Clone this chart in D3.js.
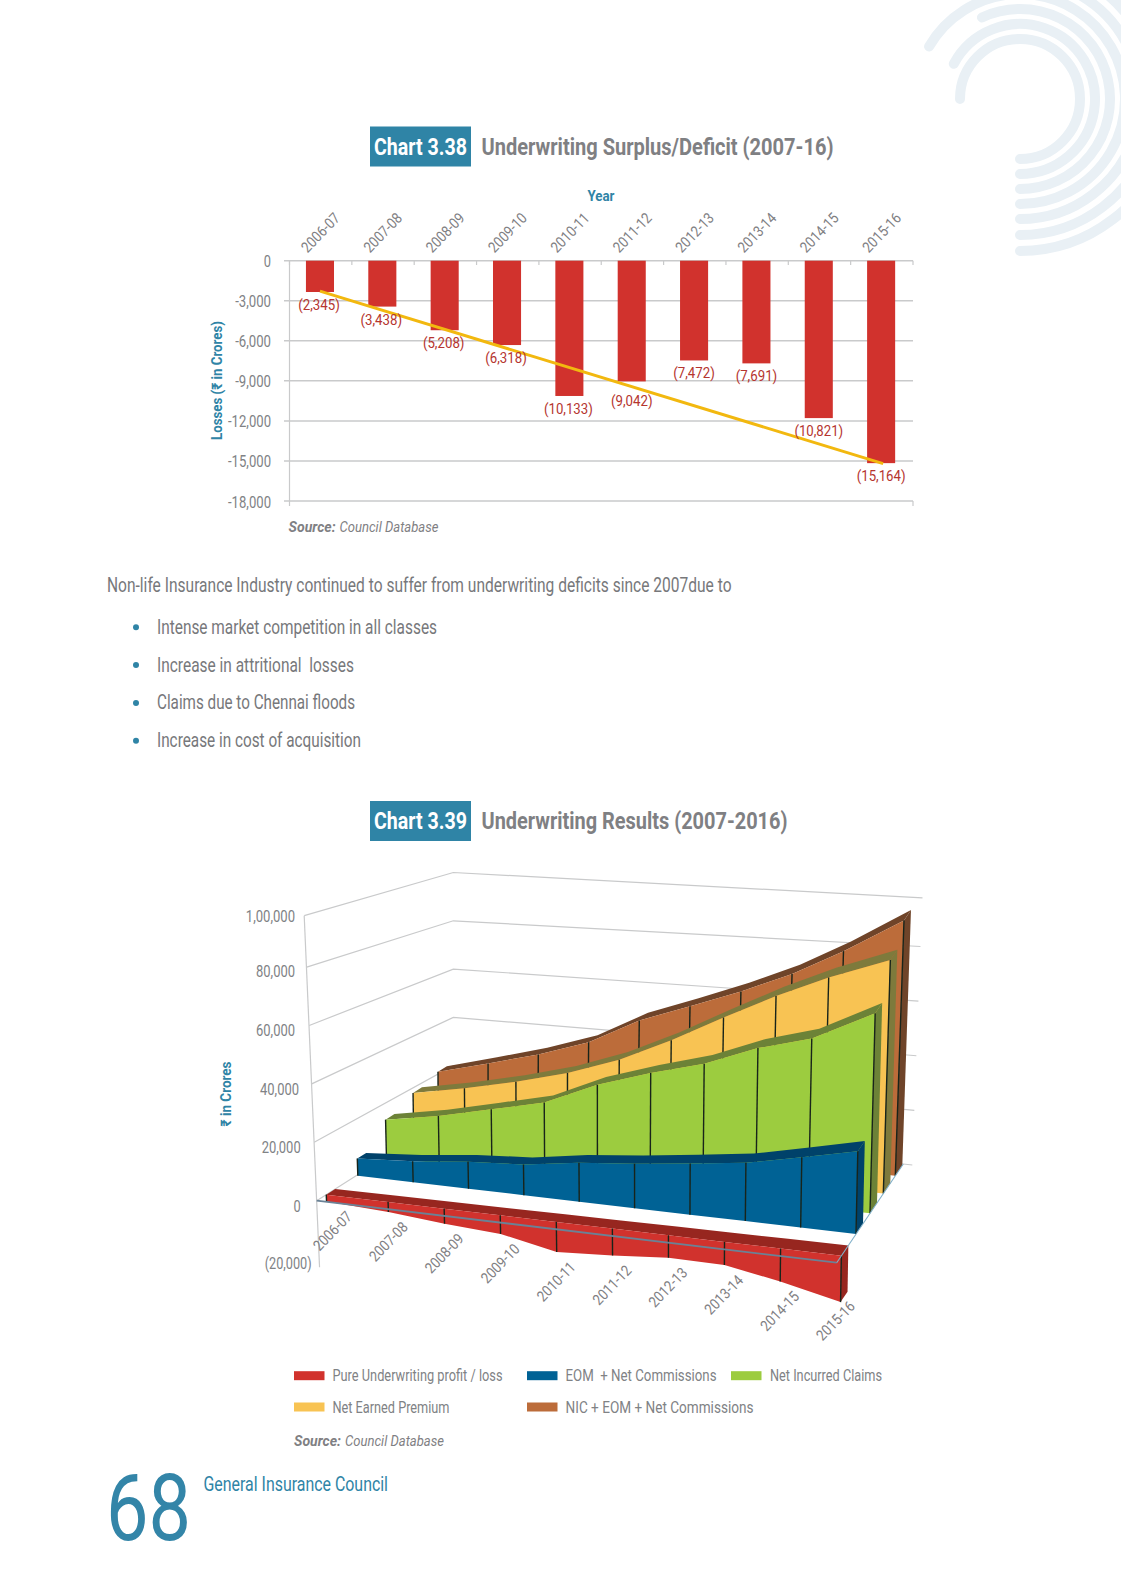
<!DOCTYPE html>
<html><head><meta charset="utf-8">
<script src="https://cdn.jsdelivr.net/npm/d3@7"></script>
<style>html,body{margin:0;padding:0;background:#fff}svg{display:block}text{white-space:pre}</style>
</head><body><div id="c"></div>
<script>
// ---------- data ----------
const categories = ["2006-07","2007-08","2008-09","2009-10","2010-11","2011-12","2012-13","2013-14","2014-15","2015-16"];
const deficitBars = [-2345,-3438,-5208,-6318,-10133,-9042,-7472,-7691,-11790,-15164];
const deficitLabels = ["(2,345)","(3,438)","(5,208)","(6,318)","(10,133)","(9,042)","(7,472)","(7,691)","(10,821)","(15,164)"];
const deficitTrendEnds = [-2280,-15200];
const deficitTicks = [0,-3000,-6000,-9000,-12000,-15000,-18000];
const deficitTickLabels = ["0","-3,000","-6,000","-9,000","-12,000","-15,000","-18,000"];

const pureProfit = [-2345,-3438,-5208,-6318,-10133,-9042,-7472,-7691,-10821,-15164];
const eomCommissions = [6200,7500,9600,10800,13600,15400,17600,19900,23800,27800];
const netIncurred = [14200,17700,22200,26700,35100,41100,46200,53400,58400,68900];
const netEarned = [18400,22200,26700,31900,38700,47600,57500,66800,74800,82500];
const nicEomCommissions = [21300,26600,32000,38500,48600,55500,62500,70300,79900,92300];
const resultTicks = [0,20000,40000,60000,80000,100000];
const resultTickLabels = ["0","20,000","40,000","60,000","80,000","1,00,000"];

const bullets = ["Intense market competition in all classes","Increase in attritional  losses","Claims due to Chennai floods","Increase in cost of acquisition"];

// ---------- helpers ----------
const W=1121,H=1578;
const FONT="Roboto,'Liberation Sans',sans-serif";
const GREY="#808285", TEAL="#2F84A6";
const svg=d3.select("#c").append("svg").attr("width",W).attr("height",H).attr("viewBox",`0 0 ${W} ${H}`)
  .style("font-family",FONT);
function txt(p,s,x,y,o={}){
  const t=p.append("text").attr("x",x).attr("y",y).attr("dominant-baseline","central")
    .attr("font-size",o.size||15).attr("fill",o.fill||GREY).attr("text-anchor",o.anchor||"start")
    .text(s);
  if(o.weight) t.attr("font-weight",o.weight);
  if(o.style) t.attr("font-style",o.style);
  if(o.w) t.attr("textLength",o.w).attr("lengthAdjust","spacingAndGlyphs");
  if(o.rot!==undefined) t.attr("transform",`rotate(${o.rot} ${x} ${y})`);
  return t;
}
// width of a condensed numeric string
const numW=s=>d3.sum(Array.from(s),c=>/\d/.test(c)?7.2:c===","?3:c==="-"?4:c==="("||c===")"?4.4:3);

// ---------- corner decoration ----------
const deco=svg.append("g").attr("fill","none").attr("stroke","#E9F0F5").attr("stroke-width",10).attr("stroke-linecap","round");
[[60,-180],[75,-152],[90,-115],[105,-150],[120,-60],[136,-60],[152,-60]].forEach(([r,endDeg])=>{
  const p=d3.path(); p.arc(1020,99,r,Math.PI/2,endDeg*Math.PI/180,true);
  deco.append("path").attr("d",p.toString());
});

// ---------- titles ----------
function title(y,num,text,tw){
  svg.append("rect").attr("x",370).attr("y",y-20).attr("width",101).attr("height",40).attr("fill","#2F84A6");
  txt(svg,num,420.5,y,{size:23.5,fill:"#fff",weight:"bold",anchor:"middle",w:93});
  txt(svg,text,481.5,y,{size:23.5,fill:"#7F8083",weight:"bold",w:tw});
}
title(146.5,"Chart 3.38","Underwriting Surplus/Deficit (2007-16)",352);
title(821,"Chart 3.39","Underwriting Results (2007-2016)",306);

// ---------- chart 3.38 ----------
const c1=svg.append("g");
const x1=d3.scaleBand().domain(categories).range([288.8,912.3]).paddingInner(0.55).paddingOuter(0.275);
const y1=d3.scaleLinear().domain([0,-18000]).range([260.7,501]);
c1.selectAll(".grid").data(deficitTicks).join("line").attr("class","grid")
  .attr("x1",284).attr("x2",913).attr("y1",d=>y1(d)).attr("y2",d=>y1(d))
  .attr("stroke","#C9CACB").attr("stroke-width",1.5);
const bandStep=x1.step();
const bounds=d3.range(categories.length+1);
c1.selectAll(".tk").data(bounds).join("line").attr("class","tk")
  .attr("x1",i=>289.5+i*bandStep).attr("x2",i=>289.5+i*bandStep).attr("y1",260.7).attr("y2",265)
  .attr("stroke","#C9CACB").attr("stroke-width",1.2);
c1.append("line").attr("x1",289.5).attr("x2",289.5).attr("y1",260.7).attr("y2",506).attr("stroke","#C9CACB").attr("stroke-width",1.2);
c1.append("line").attr("x1",913).attr("x2",913).attr("y1",501).attr("y2",506).attr("stroke","#C9CACB").attr("stroke-width",1.2);
c1.selectAll(".bar").data(categories).join("rect").attr("class","bar")
  .attr("x",d=>x1(d)).attr("width",x1.bandwidth())
  .attr("y",y1(0)).attr("height",(d,i)=>y1(deficitBars[i])-y1(0)).attr("fill","#D1322D");
const lineGen=d3.line().x(d=>d[0]).y(d=>d[1]);
c1.append("path").attr("fill","none").attr("stroke","#F2B80F").attr("stroke-width",3)
  .attr("d",lineGen([[x1(categories[0])+x1.bandwidth()/2,y1(deficitTrendEnds[0])],
                     [x1(categories[9])+x1.bandwidth()/2+2,y1(deficitTrendEnds[1])]]));
const labelDrop=(i)=>i===5?20:13;
categories.forEach((c,i)=>{
  txt(c1,deficitLabels[i],x1(c)+x1.bandwidth()/2-(i<5?1:0),y1(deficitBars[i])+labelDrop(i),{size:15.5,fill:"#B5352F",anchor:"middle",w:numW(deficitLabels[i])+1});
  txt(c1,c,x1(c)+x1.bandwidth()/2-16,250,{size:15,rot:-46,w:48,fill:"#7F8083"});
});
deficitTicks.forEach((t,i)=>txt(c1,deficitTickLabels[i],271,y1(t)+1,{size:16,anchor:"end",w:numW(deficitTickLabels[i])}));
txt(c1,"Year",601,196,{size:15,fill:TEAL,weight:"bold",anchor:"middle",w:27});
txt(c1,"Losses (\u20B9 in Crores)",217.5,380.5,{size:14.5,fill:TEAL,weight:"bold",anchor:"middle",rot:-90,w:119});
txt(c1,"Source:",288.6,526.5,{size:15.5,fill:"#7F8083",weight:"bold",style:"italic",w:47});
txt(c1,"Council Database",339.5,526.5,{size:15.5,fill:"#7F8083",style:"italic",w:99});

// ---------- body text ----------
txt(svg,"Non-life Insurance Industry continued to suffer from underwriting deficits since 2007due to",107,585,{size:19.5,fill:"#77787B",w:624.5});
const bulletY=d3.scalePoint().domain(bullets).range([627.3,740.7]);
const bulletW=[280,197,198,204];
bullets.forEach((b,i)=>{
  svg.append("circle").attr("cx",136).attr("cy",bulletY(b)).attr("r",3).attr("fill",TEAL);
  txt(svg,b,157,bulletY(b),{size:19.5,fill:"#77787B",w:bulletW[i]});
});

// ---------- chart 3.39 : projection of (category t, value, depth d) to the page ----------
const corners={FL:[316.7,1200.7],FR:[836.7,1262.7],BL:[453.3,1114],BR:[903.3,1164]};
const rise={FL:58.4,FR:61.6,BL:48.3,BR:54.5};
const lean={FL:-2.5,FR:1,BL:0,BR:2};
const idx=d3.scalePoint().domain(categories).range([0,9]);
const vScale=d3.scaleLinear().domain([0,20000]).range([0,1]);
const bil=(a,b,c,e,t,d)=>(a*(1-t)+b*t)*(1-d)+(c*(1-t)+e*t)*d;
function proj(t,v,d){
  const u=vScale(v);
  const bx=bil(corners.FL[0],corners.FR[0],corners.BL[0],corners.BR[0],t,d);
  const by=bil(corners.FL[1],corners.FR[1],corners.BL[1],corners.BR[1],t,d);
  const h=bil(rise.FL,rise.FR,rise.BL,rise.BR,t,d);
  const l=bil(lean.FL,lean.FR,lean.BL,lean.BR,t,d);
  return [bx+l*u,by-h*u];
}
const c2=svg.append("g");
// walls
const gridLine=d3.line();
resultTicks.forEach(v=>{
  const topFix=v===100000?[0,7,6]:[0,0,0];
  const a=proj(0,v,0), b=proj(0,v,1), e=proj(1.02,v,1);
  c2.append("path").attr("fill","none").attr("stroke","#C9CACB").attr("stroke-width",1.2)
    .attr("d",gridLine([[a[0],a[1]+topFix[1]],b,[e[0],e[1]+topFix[2]]]));
});
const axTop=proj(0,100000,0), axBot=proj(0,-22800,0);
c2.append("line").attr("x1",axTop[0]).attr("y1",axTop[1]+7).attr("x2",axBot[0]).attr("y2",axBot[1]).attr("stroke","#C9CACB").attr("stroke-width",1.2);

// category spacing along each ribbon: the outer steps of some ribbons are a little longer
const stepsEnd=d3.scaleLinear().domain([0,8,9]).range([0.003,0.873,1]);
const stepsEven=d3.scaleLinear().domain([0,9]).range([0.003,1]);
const stepsBoth=d3.scaleLinear().domain([0,1,8,9]).range([0,0.12,0.882,1]);
const seriesList=[
 {values:nicEomCommissions,d:0.88,front:"#BC6C3A",top:"#6F4429",steps:stepsEnd},
 {values:netEarned,d:0.70,front:"#F8C353",top:"#7E7A3C",steps:stepsEnd},
 {values:netIncurred,d:0.50,front:"#9CCC3F",top:"#6C8237",steps:stepsEnd},
 {values:eomCommissions,d:0.29,front:"#006295",top:"#00426A",steps:stepsEven},
 {values:pureProfit,d:0.07,front:"#D1322D",top:"#97261F",steps:stepsBoth}
];
const stripDepth=t=>0.065+0.04*t;
const poly=d3.line();
seriesList.forEach(s=>{
  const g=c2.append("g");
  const pts=categories.map((c,i)=>({t:s.steps(idx(c)),v:s.values[i]}));
  const last=pts[pts.length-1];
  const neg=last.v<0;
  const topVal=p=>neg?0:p.v;
  // depth offset of the ribbon measured on the floor and carried up unchanged
  const back=(t,v)=>{
    const a=proj(t,v,s.d), f0=proj(t,0,s.d), f1=proj(t,0,s.d+stripDepth(t));
    return [a[0]+f1[0]-f0[0],a[1]+f1[1]-f0[1]];
  };
  const strip=pts.map(p=>proj(p.t,topVal(p),s.d)).concat(pts.slice().reverse().map(p=>back(p.t,topVal(p))));
  g.append("path").attr("d",poly(strip)+"Z").attr("fill",s.top);
  const lowEnd=neg?last.v:0;
  const side=[proj(1,topVal(last),s.d),back(1,topVal(last)),back(1,lowEnd),proj(1,lowEnd,s.d)];
  g.append("path").attr("d",poly(side)+"Z").attr("fill",s.top);
  const front=pts.map(p=>proj(p.t,p.v,s.d)).concat(pts.slice().reverse().map(p=>proj(p.t,0,s.d)));
  g.append("path").attr("d",poly(front)+"Z").attr("fill",s.front);
  pts.forEach(p=>{
    const a=proj(p.t,p.v,s.d), b=proj(p.t,0,s.d);
    g.append("line").attr("x1",a[0]).attr("y1",a[1]).attr("x2",b[0]).attr("y2",b[1]).attr("stroke","#18241a").attr("stroke-width",1.4);
  });
});
// floor edges
const fl=proj(0,0,0),fr=proj(1,0,0),br=proj(1,0,1);
c2.append("path").attr("fill","none").attr("stroke","#6A8296").attr("stroke-width",1.8).attr("d",poly([fl,fr]));
c2.append("path").attr("fill","none").attr("stroke","#7FAFC8").attr("stroke-width",1.1).attr("d",poly([fr,br]));

// value labels
const labelY=d3.scaleLinear().domain([-20000,0,80000,100000]).range([1263,1206,971,916]);
const labelRight={"(20,000)":311.7,"1,00,000":295,"80,000":295,"60,000":295,"40,000":299,"20,000":300.7,"0":300.7};
txt(c2,"(20,000)",labelRight["(20,000)"],labelY(-20000),{size:17,anchor:"end",w:47});
resultTicks.forEach((v,i)=>{const s=resultTickLabels[i];txt(c2,s,labelRight[s],labelY(v),{size:17,anchor:"end",w:numW(s)});});
txt(c2,"\u20B9 in Crores",226,1094,{size:14.5,fill:TEAL,weight:"bold",anchor:"middle",rot:-90,w:65});
const xlx=d3.scalePoint().domain(categories).range([316,819]);
const xlDrop=i=>i===9?36:47;
categories.forEach((c,i)=>{
  const bottom=proj(stepsBoth(idx(c)),pureProfit[i],0.07)[1];
  txt(c2,c,xlx(c),bottom+xlDrop(i),{size:15,rot:-46,w:48,fill:"#7F8083"});
});

// legend
const legendNames=["Pure Underwriting profit / loss","EOM  + Net Commissions","Net Incurred Claims","Net Earned Premium","NIC + EOM + Net Commissions"];
const legendColors=["#D1322D","#006295","#9CCC3F","#F8C353","#BC6C3A"];
const legendSwatchX=[294,527,731,294,527];
const legendTextW=[170,151,112,117,188];
const legendRowY=[1375.7,1375.7,1375.7,1407,1407];
legendNames.forEach((n,i)=>{
  svg.append("rect").attr("x",legendSwatchX[i]).attr("y",legendRowY[i]-4.5).attr("width",30.5).attr("height",9).attr("fill",legendColors[i]);
  txt(svg,n,legendSwatchX[i]+(i===2?39:38.5),legendRowY[i],{size:16,w:legendTextW[i]});
});
txt(svg,"Source:",294,1440.7,{size:15.5,fill:"#7F8083",weight:"bold",style:"italic",w:47});
txt(svg,"Council Database",345,1440.7,{size:15.5,fill:"#7F8083",style:"italic",w:99});

// footer
svg.append("text").attr("x",106).attr("y",1540).attr("font-size",92).attr("fill","#3385A8")
  .attr("textLength",85).attr("lengthAdjust","spacingAndGlyphs").text("68");
txt(svg,"General Insurance Council",203.5,1483.7,{size:20,fill:TEAL,w:184.5});
</script></body></html>
